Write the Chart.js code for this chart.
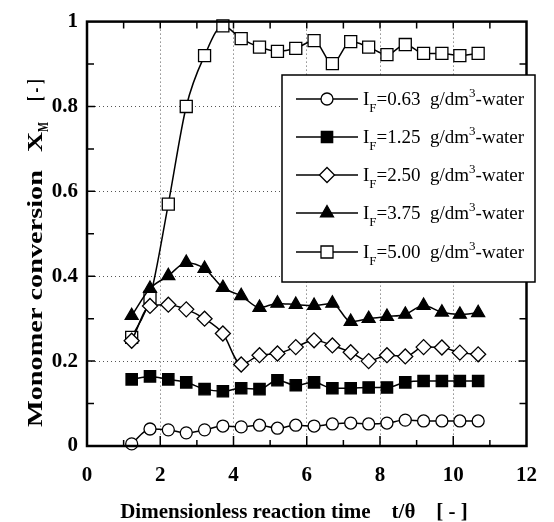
<!DOCTYPE html>
<html>
<head>
<meta charset="utf-8">
<script src="https://cdn.jsdelivr.net/npm/chart.js@4/dist/chart.umd.min.js"></script>
<style>
html,body{margin:0;padding:0;background:#fff;}
#wrap{width:554px;height:522px;}
</style>
</head>
<body>
<div id="wrap"><canvas id="c" width="554" height="522"></canvas></div>
<script>
// ---- data ----
const timeValues = [1.22,1.72,2.22,2.71,3.21,3.71,4.21,4.71,5.20,5.70,6.20,6.70,7.20,7.69,8.19,8.69,9.19,9.69,10.18,10.68];
const conv063 = [0.005,0.040,0.038,0.031,0.038,0.047,0.045,0.049,0.042,0.049,0.047,0.052,0.054,0.052,0.054,0.061,0.059,0.059,0.059,0.059];
const conv125 = [0.157,0.164,0.157,0.150,0.134,0.129,0.136,0.134,0.155,0.143,0.150,0.136,0.136,0.138,0.138,0.150,0.153,0.153,0.153,0.153];
const conv250 = [0.248,0.330,0.333,0.322,0.300,0.265,0.192,0.214,0.218,0.233,0.249,0.237,0.221,0.200,0.214,0.211,0.233,0.232,0.220,0.216];
const conv375 = [0.307,0.371,0.401,0.432,0.418,0.373,0.354,0.326,0.336,0.333,0.331,0.336,0.293,0.300,0.305,0.310,0.331,0.315,0.310,0.314];
const conv500 = [0.256,0.350,0.570,0.800,0.920,0.990,0.960,0.940,0.930,0.937,0.955,0.901,0.953,0.940,0.922,0.946,0.925,0.925,0.920,0.925];
const seriesLabels = ['0.63','1.25','2.50','3.75','5.00'];
const xTickValues = [0,2,4,6,8,10,12];
const yTickLabels = ['0','0.2','0.4','0.6','0.8','1'];

const SERIF = '"Liberation Serif","Times New Roman",serif';
const styles = [
  {pointStyle:'circle', radius:6, fill:'#fff'},
  {pointStyle:'rect', radius:8, fill:'#000'},
  {pointStyle:'rectRot', radius:7.5, fill:'#fff'},
  {pointStyle:'triangle', radius:7.5, fill:'#000'},
  {pointStyle:'rect', radius:8.5, fill:'#fff'}
];
const allSeries = [conv063, conv125, conv250, conv375, conv500];

const datasets = allSeries.map((arr, i) => ({
  label: 'IF=' + seriesLabels[i] + ' g/dm3-water',
  data: timeValues.map((t, k) => ({x: t, y: arr[k]})),
  borderColor: '#000',
  borderWidth: 1.5,
  backgroundColor: styles[i].fill,
  pointStyle: styles[i].pointStyle,
  pointRadius: styles[i].radius,
  pointHoverRadius: styles[i].radius,
  pointBackgroundColor: styles[i].fill,
  pointBorderColor: '#000',
  pointBorderWidth: 1.3,
  cubicInterpolationMode: 'monotone',
  clip: false,
  fill: false
}));

function drawMarker(ctx, st, x, y) {
  ctx.save();
  ctx.fillStyle = st.fill;
  ctx.strokeStyle = '#000';
  ctx.lineWidth = 1.3;
  if (Chart.helpers && Chart.helpers.drawPoint) {
    Chart.helpers.drawPoint(ctx, {pointStyle: st.pointStyle, radius: st.radius, rotation: 0, borderWidth: 1.3}, x, y);
  }
  ctx.restore();
}

function drawRich(ctx, pieces, x, y, size, weight, align) {
  const full = weight + ' ' + size + 'px ' + SERIF;
  const small = weight + ' ' + Math.round(size * 0.68) + 'px ' + SERIF;
  let total = 0;
  pieces.forEach(p => { ctx.font = p[1] === 'n' ? full : small; total += ctx.measureText(p[0]).width; });
  let cx = align === 'center' ? x - total / 2 : x;
  ctx.textAlign = 'left';
  ctx.textBaseline = 'alphabetic';
  pieces.forEach(p => {
    ctx.font = p[1] === 'n' ? full : small;
    let dy = 0;
    if (p[1] === 'sub') dy = size * 0.36;
    if (p[1] === 'sup') dy = -size * 0.42;
    ctx.fillText(p[0], cx, y + dy);
    cx += ctx.measureText(p[0]).width;
  });
}

// stretched text piece along baseline direction
function stretchedText(ctx, text, u, v, font, targetWidth) {
  ctx.font = font;
  const w = ctx.measureText(text).width;
  const sx = targetWidth ? targetWidth / w : 1;
  ctx.save();
  ctx.translate(u, v);
  ctx.scale(sx, 1);
  ctx.fillText(text, 0, 0);
  ctx.restore();
}

const framePlugin = {
  id: 'frame',
  afterDraw(chart) {
    const ctx = chart.ctx;
    const a = chart.chartArea;
    const xs = chart.scales.x, ys = chart.scales.y;
    ctx.save();
    ctx.strokeStyle = '#000';
    ctx.lineWidth = 1.5;
    ctx.beginPath();
    for (let v = 1; v <= 11; v++) {
      const px = xs.getPixelForValue(v);
      const len = (v % 2 === 0) ? 10 : 6;
      ctx.moveTo(px, a.bottom); ctx.lineTo(px, a.bottom - len);
      ctx.moveTo(px, a.top); ctx.lineTo(px, a.top + 7);
    }
    for (let k = 1; k <= 9; k++) {
      const py = ys.getPixelForValue(k / 10);
      const len = (k % 2 === 0) ? 8 : 7;
      ctx.moveTo(a.left, py); ctx.lineTo(a.left + len, py);
      ctx.moveTo(a.right, py); ctx.lineTo(a.right - len, py);
    }
    ctx.stroke();
    ctx.lineWidth = 2.5;
    ctx.strokeRect(a.left, a.top, a.right - a.left, a.bottom - a.top);

    // axis titles
    ctx.fillStyle = '#000';
    drawRich(ctx, [['Dimensionless reaction time    t/\u03B8    [ - ]', 'n']], 294, 518, 21, 'bold', 'center');

    ctx.save();
    ctx.translate(42, 0);
    ctx.rotate(-Math.PI / 2);
    ctx.textAlign = 'left';
    ctx.textBaseline = 'alphabetic';
    const bf = 'bold 22px ' + SERIF;
    stretchedText(ctx, 'Monomer conversion', -427, 0, bf, 257);
    stretchedText(ctx, 'X', -152, 0, bf, 20);
    stretchedText(ctx, 'M', -132, 6, 'bold 14px ' + SERIF, 10);
    stretchedText(ctx, '[ - ]', -101, 0, bf, 22);
    ctx.restore();

    // legend
    const L = {left: 282, top: 75, right: 535, bottom: 282};
    ctx.fillStyle = '#fff';
    ctx.fillRect(L.left, L.top, L.right - L.left, L.bottom - L.top);
    ctx.lineWidth = 1.5;
    ctx.strokeStyle = '#000';
    ctx.strokeRect(L.left, L.top, L.right - L.left, L.bottom - L.top);
    const rows = [99, 137, 175, 213, 252];
    rows.forEach((ry, i) => {
      ctx.lineWidth = 1.5;
      ctx.beginPath(); ctx.moveTo(296, ry); ctx.lineTo(358, ry); ctx.stroke();
      drawMarker(ctx, styles[i], 327, ry);
      ctx.fillStyle = '#000';
      drawRich(ctx, [['I', 'n'], ['F', 'sub'], ['=' + seriesLabels[i] + '  g/dm', 'n'], ['3', 'sup'], ['-water', 'n']], 363, ry + 6, 19, 'normal', 'left');
    });
    ctx.restore();
  }
};

new Chart(document.getElementById('c'), {
  type: 'line',
  data: {datasets},
  options: {
    responsive: false,
    devicePixelRatio: 1,
    animation: false,
    events: [],
    layout: {padding: {left: 0, top: 20, right: 12, bottom: 0}},
    plugins: {legend: {display: false}, tooltip: {enabled: false}, title: {display: false}},
    scales: {
      x: {
        type: 'linear', min: 0, max: 12,
        afterBuildTicks: s => { s.ticks = xTickValues.map(v => ({value: v})); },
        afterFit: s => { s.height = 76; },
        ticks: {color: '#000', font: {family: SERIF, size: 21, weight: 'bold'}, padding: 17, maxRotation: 0,
          callback: v => String(v)},
        grid: {color: '#555', lineWidth: 1, drawTicks: false},
        border: {display: false, dash: [1, 3]}
      },
      y: {
        type: 'linear', min: 0, max: 1,
        afterBuildTicks: s => { s.ticks = yTickLabels.map(t => ({value: parseFloat(t)})); },
        afterFit: s => { s.width = 87; },
        ticks: {color: '#000', font: {family: SERIF, size: 21, weight: 'bold'}, padding: 9,
          callback: (v) => { const i = yTickLabels.findIndex(t => Math.abs(parseFloat(t) - v) < 1e-9); return i >= 0 ? yTickLabels[i] : ''; }},
        grid: {color: '#555', lineWidth: 1, drawTicks: false},
        border: {display: false, dash: [1, 3]}
      }
    }
  },
  plugins: [framePlugin]
});
</script>
</body>
</html>
